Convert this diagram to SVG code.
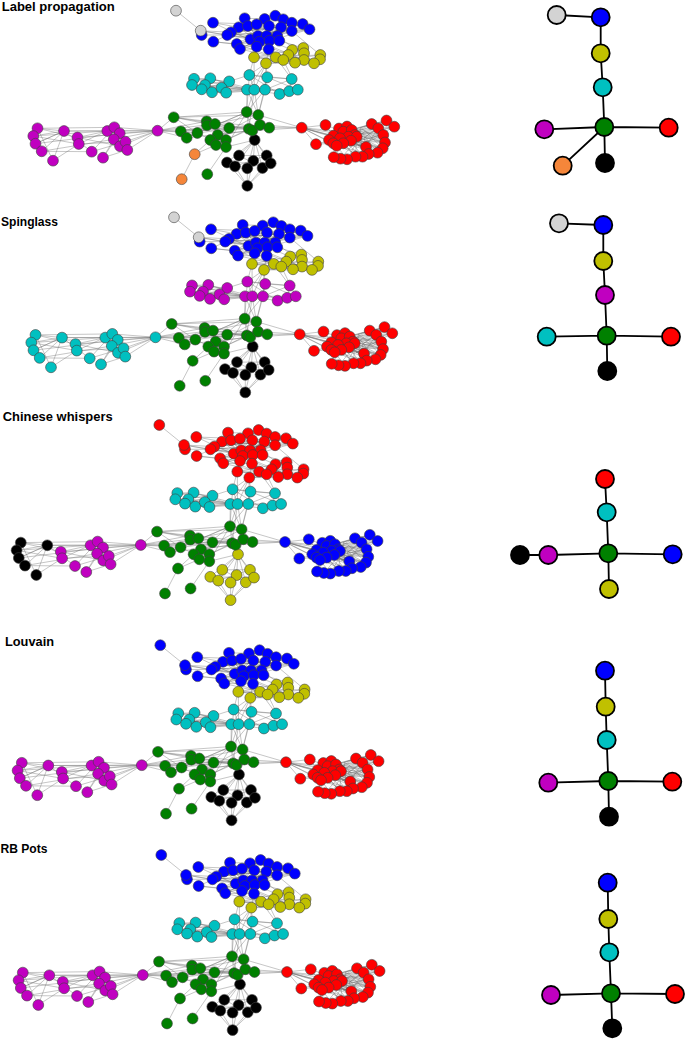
<svg xmlns="http://www.w3.org/2000/svg" xmlns:xlink="http://www.w3.org/1999/xlink" width="685" height="1039" viewBox="0 0 685 1039">
<style>
.title{font-family:"Liberation Sans",Arial,sans-serif;font-weight:bold;font-size:13px;fill:#000}
.sn{stroke:#000;stroke-width:1.8}
.se{stroke:#000;stroke-width:1.8;fill:none}
</style>
<defs>
<path id="edges" fill="none" stroke="#707070" stroke-width="0.4" d="
M176 10.7L200.7 30.7M200.7 30.7L227.2 35M200.7 30.7L231 32.3M200.7 30.7L250.5 39.3M213 22.7L238.7 27.3M213.3 41.7L236.8 44M201.7 35L227 35M213 22.7L256.7 24.3M213.3 41.7L256.7 46.7M213 22.7L250 40M213.3 41.7L247.8 26
M227 35L309.5 29.3M231 32.3L302.7 24M238.7 27.3L291.8 31M236.8 44L279.3 40.7M240 49L268.7 49.3M244.7 18.3L283.3 19.3M247.8 26L309.5 29.3M250.5 39.3L302.7 24M256.7 46.7L291.8 22.7M227 35L279.3 40.7M231 32.3L269.5 40.7M236.8 44L291.8 31M240 49L309.5 29.3M238.7 27.3L277.3 36M247.8 26L266.7 36M256.7 24.3L291.8 31M264.7 19L279.3 40.7M275.3 15.7L258 36M231 32.3L291.8 22.7M227 35L264.7 19M236.8 44L302.7 24M240 49L281 27.3M250.5 39.3L309.5 29.3M259.5 41.7L244.7 18.3M269.5 40.7L238.7 27.3M268.7 49.3L247.8 26M227 35L269.5 40.7M231 32.3L259.5 41.7M238.7 27.3L268.7 49.3M227 35L291.8 31M231 32.3L281 27.3M236.8 44L269 26M240 49L291.8 22.7
M256.7 46.7L254 57.3M268.7 49.3L266 63.3M269.5 40.7L292.2 50M279.3 40.7L303.3 48M240 49L275.8 57.3M250.5 39.3L288.3 55M291.8 31L320.3 55M236.8 44L283.3 60M259.5 41.7L304 60M277.3 36L314 63.3
M254 57.3L320.3 55M266 63.3L314 63.3M275.8 57.3L304 60M254 57.3L303.3 48M266 63.3L320 59.3M283.3 60L320.3 55M288.3 55L314 63.3M254 57.3L295 62.7M266 63.3L292.2 50M275.8 57.3L320 59.3M254 57.3L314 63.3M266 63.3L304 53.3
M266 63.3L249.3 75M266 63.3L254.3 89.7M266 63.3L247 89.7M266 63.3L267.2 77.3M254 57.3L249.3 75M275.8 57.3L291.7 79M266 63.3L265 89.7M283.3 60L297.8 89.7M254 57.3L254.3 89.7
M194 78.8L229.2 81.4M192 85L247 89.7M201.7 89.3L254.3 89.7M205 85L265 89.7M210.3 78.3L247 89.7M212 92.3L247 89.7M221.5 87.8L254.3 89.7M226.2 92.7L265 89.7M194 78.8L210.3 78.3M192 85L221.5 87.8M201.7 89.3L229.2 81.4M205 85L226.2 92.7M194 78.8L247 89.7M210.3 78.3L254.3 89.7M212 92.3L265 89.7M229.2 81.4L249.3 75M192 85L229.2 81.4
M249.3 75L291.7 79M267.2 77.3L297.8 89.7M249.3 75L254.3 89.7M267.2 77.3L265 89.7M247 89.7L279.6 94M254.3 89.7L289.2 91.2M265 89.7L297.8 89.7M249.3 75L267.2 77.3M267.2 77.3L291.7 79M291.7 79L289.2 91.2M249.3 75L279.6 94M291.7 79L265 89.7
M247 89.7L246.7 112M254.3 89.7L246.7 112M254.3 89.7L258.3 115M265 89.7L258.3 115M247 89.7L258.3 115M265 89.7L246.7 112M249.3 75L246.7 112M267.2 77.3L258.3 115M254.3 89.7L248.8 128.8
M173.7 117.3L246.7 112M173.7 117.3L229.2 128M173.7 117.3L258.3 115M180.8 131.3L248.8 128.8M186.7 137.8L246.7 112M197.3 133L260 125M206.7 121.3L269.2 127.7M207 125.3L258.3 115M215 124L252.2 130.5M217.7 135L246.7 112M210.3 140L229.2 128M216 145L248.8 128.8M226 140L260 125M226 147L246.7 112M229.2 128L269.2 127.7M180.8 131.3L215 124M186.7 137.8L207 125.3M173.7 117.3L206.7 121.3M197.3 133L226 147M206.7 121.3L226 140M246.7 112L258.3 115M258.3 115L269.2 127.7M246.7 112L248.8 128.8M173.7 117.3L197.3 133M180.8 131.3L260 125M186.7 137.8L252.2 130.5M210.3 140L258.3 115M217.7 135L269.2 127.7M173.7 117.3L248.8 128.8M197.3 133L246.7 112
M157.5 130.7L173.7 117.3M157.5 130.7L180.8 131.3M157.5 130.7L206.7 121.3M157.5 130.7L197.3 133M157.5 130.7L215 124M157.5 130.7L186.7 137.8M157.5 130.7L229.2 128
M157.5 130.7L114.3 127.3M157.5 130.7L119.7 133.3M157.5 130.7L125.5 141.7M157.5 130.7L127.3 150M157.5 130.7L120 146.2M157.5 130.7L107.3 131M157.5 130.7L113.8 139.3M157.5 130.7L64 131M157.5 130.7L77.5 137.5
M37.5 128.3L114.3 127.3M33.3 136L107.3 131M35.5 143.7L119.7 133.3M41.7 151.3L113.8 139.3M53 160.7L64 131M64 131L107.3 131M64 131L35.5 143.7M37.5 128.3L77.5 137.5M33.3 136L78.8 144M41.7 151.3L91.7 151.7M77.5 137.5L120 146.2M78.8 144L125.5 141.7M91.7 151.7L114.3 127.3M103 157.7L119.7 133.3M103 157.7L127.3 150M77.5 137.5L107.3 131M35.5 143.7L64 131M53 160.7L37.5 128.3M53 160.7L78.8 144M64 131L91.7 151.7M37.5 128.3L64 131M107.3 131L127.3 150M114.3 127.3L120 146.2M91.7 151.7L125.5 141.7M33.3 136L64 131M41.7 151.3L64 131M78.8 144L114.3 127.3M103 157.7L113.8 139.3
M269.2 127.7L301.7 127.7M258.3 115L301.7 127.7M260 125L301.7 127.7M252.2 130.5L301.7 127.7
M301.7 127.7L333.3 135.7M301.7 127.7L340 138.3M301.7 127.7L333.3 143.3M301.7 127.7L343.3 131.7M301.7 127.7L336.7 145.7M301.7 127.7L351 140.7M301.7 127.7L325.5 125M325.5 125L343.3 131.7M316 144.2L333.3 143.3M316 144.2L301.7 127.7M316 144.2L340 138.3M325.5 125L333.3 135.7M301.7 127.7L356.7 136.7M301.7 127.7L366 147
M343.3 131.7L371.7 124M348.3 136.7L378.3 128.3M351 140.7L383.3 135M355 135L385 142.5M343.3 143.3L382.7 148.3M340 138.3L377.5 152.7M336.7 145.7L368.7 154M333.3 143.3L362.5 156.7M351.7 130L386.5 120.5M356.7 136.7L394.3 126.7M340 138.3L366 147M343.3 131.7L383.3 135M333.3 135.7L385 142.5M348.3 136.7L382.7 148.3M351 140.7L377.5 152.7M355 135L368.7 154M343.3 143.3L355.5 156.7M336.7 145.7L347 159.3M333.3 143.3L340.5 158.7M351.7 130L378.3 128.3M356.7 136.7L383.3 135M340 138.3L362.5 156.7M333.3 135.7L371.7 124M348.3 136.7L366 147M355 135L382.7 148.3M343.3 131.7L385 142.5M351 140.7L362.5 156.7M340 138.3L386.5 120.5M336.7 145.7L333.7 157.2M343.3 143.3L377.5 152.7M351.7 130L383.3 135M333.3 135.7L378.3 128.3M356.7 136.7L377.5 152.7M348.3 136.7L394.3 126.7M340 138.3L382.7 148.3M355 135L366 147M351 140.7L385 142.5M343.3 131.7L368.7 154M333.3 143.3L371.7 124M336.7 145.7L383.3 135M343.3 143.3L366 147M356.7 136.7L355.5 156.7M351.7 130L385 142.5M333.3 135.7L382.7 148.3M348.3 136.7L368.7 154M340 138.3L355.5 156.7M371.7 124L386.5 120.5M378.3 128.3L394.3 126.7
M360 128L385 142.5M362 133L377.5 152.7M364 138L368.7 154M358 146L383.3 135M362 152L378.3 128.3M365 131L382.7 148.3M360 128L362.5 156.7M364 138L386.5 120.5M358 146L394.3 126.7M362 133L347 159.3M365 131L340.5 158.7M360 128L371.7 124M364 138L378.3 128.3
M254.7 140L239 155.5M254.7 140L266.7 155.5M254.7 140L227 162.5M254.7 140L235 166.3M254.7 140L253.3 160.8M254.7 140L247.3 168.3M254.7 140L262.5 168M254.7 140L270.7 163.3M247.3 185.8L227 162.5M247.3 185.8L235 166.3M247.3 185.8L247.3 168.3M247.3 185.8L262.5 168M247.3 185.8L270.7 163.3M247.3 185.8L253.3 160.8M239 155.5L266.7 155.5M227 162.5L270.7 163.3M239 155.5L262.5 168M266.7 155.5L235 166.3
M254.7 140L252.2 130.5M254.7 140L248.8 128.8M254.7 140L260 125M254.7 140L246.7 112M254.7 140L258.3 115M254.7 140L226 147
M194.7 154.2L181.7 179.2M194.7 154.2L210.3 140M207.3 174.2L226 147M194.7 154.2L216 145"/>
<g id="nGrey" stroke="#404040" stroke-width="0.6"><circle cx="176" cy="10.7" r="5.4"/><circle cx="200.7" cy="30.7" r="5.4"/></g>
<g id="nBlue" stroke="#404040" stroke-width="0.6">
<circle cx="201.7" cy="35" r="5.4"/><circle cx="213" cy="22.7" r="5.4"/><circle cx="213.3" cy="41.7" r="5.4"/><circle cx="244.7" cy="18.3" r="5.4"/><circle cx="264.7" cy="19" r="5.4"/><circle cx="275.3" cy="15.7" r="5.4"/><circle cx="283.3" cy="19.3" r="5.4"/><circle cx="291.8" cy="22.7" r="5.4"/><circle cx="302.7" cy="24" r="5.4"/><circle cx="309.5" cy="29.3" r="5.4"/><circle cx="238.7" cy="27.3" r="5.4"/><circle cx="247.8" cy="26" r="5.4"/><circle cx="256.7" cy="24.3" r="5.4"/><circle cx="269" cy="26" r="5.4"/><circle cx="281" cy="27.3" r="5.4"/><circle cx="291.8" cy="31" r="5.4"/><circle cx="231" cy="32.3" r="5.4"/><circle cx="227.2" cy="35" r="5.4"/><circle cx="250.5" cy="39.3" r="5.4"/><circle cx="258" cy="36" r="5.4"/><circle cx="266.7" cy="36" r="5.4"/><circle cx="277.3" cy="36" r="5.4"/><circle cx="236.8" cy="44" r="5.4"/><circle cx="240" cy="49" r="5.4"/><circle cx="259.5" cy="41.7" r="5.4"/><circle cx="269.5" cy="40.7" r="5.4"/><circle cx="279.3" cy="40.7" r="5.4"/><circle cx="256.7" cy="46.7" r="5.4"/><circle cx="268.7" cy="49.3" r="5.4"/>
</g>
<g id="nYellow" stroke="#404040" stroke-width="0.6">
<circle cx="303.3" cy="48" r="5.4"/><circle cx="292.2" cy="50" r="5.4"/><circle cx="304" cy="53.3" r="5.4"/><circle cx="288.3" cy="55" r="5.4"/><circle cx="320.3" cy="55" r="5.4"/><circle cx="254" cy="57.3" r="5.4"/><circle cx="275.8" cy="57.3" r="5.4"/><circle cx="283.3" cy="60" r="5.4"/><circle cx="304" cy="60" r="5.4"/><circle cx="320" cy="59.3" r="5.4"/><circle cx="266" cy="63.3" r="5.4"/><circle cx="295" cy="62.7" r="5.4"/><circle cx="314" cy="63.3" r="5.4"/>
</g>
<g id="nCyan" stroke="#404040" stroke-width="0.6">
<circle cx="194" cy="78.8" r="5.4"/><circle cx="210.3" cy="78.3" r="5.4"/><circle cx="192" cy="85" r="5.4"/><circle cx="205" cy="85" r="5.4"/><circle cx="201.7" cy="89.3" r="5.4"/><circle cx="212" cy="92.3" r="5.4"/><circle cx="229.2" cy="81.4" r="5.4"/><circle cx="221.5" cy="87.8" r="5.4"/><circle cx="226.2" cy="92.7" r="5.4"/><circle cx="249.3" cy="75" r="5.4"/><circle cx="267.2" cy="77.3" r="5.4"/><circle cx="291.7" cy="79" r="5.4"/><circle cx="247" cy="89.7" r="5.4"/><circle cx="254.3" cy="89.7" r="5.4"/><circle cx="265" cy="89.7" r="5.4"/><circle cx="279.6" cy="94" r="5.4"/><circle cx="289.2" cy="91.2" r="5.4"/><circle cx="297.8" cy="89.7" r="5.4"/>
</g>
<g id="nGreen" stroke="#404040" stroke-width="0.6">
<circle cx="173.7" cy="117.3" r="5.4"/><circle cx="246.7" cy="112" r="5.4"/><circle cx="258.3" cy="115" r="5.4"/><circle cx="180.8" cy="131.3" r="5.4"/><circle cx="186.7" cy="137.8" r="5.4"/><circle cx="197.3" cy="133" r="5.4"/><circle cx="206.7" cy="121.3" r="5.4"/><circle cx="207" cy="125.3" r="5.4"/><circle cx="215" cy="124" r="5.4"/><circle cx="229.2" cy="128" r="5.4"/><circle cx="217.7" cy="135" r="5.4"/><circle cx="210.3" cy="140" r="5.4"/><circle cx="216" cy="145" r="5.4"/><circle cx="226" cy="140" r="5.4"/><circle cx="226" cy="147" r="5.4"/><circle cx="248.8" cy="128.8" r="5.4"/><circle cx="252.2" cy="130.5" r="5.4"/><circle cx="260" cy="125" r="5.4"/><circle cx="269.2" cy="127.7" r="5.4"/><circle cx="207.3" cy="174.2" r="5.4"/>
</g>
<g id="nOrange" stroke="#404040" stroke-width="0.6"><circle cx="194.7" cy="154.2" r="5.4"/><circle cx="181.7" cy="179.2" r="5.4"/></g>
<g id="nBlack" stroke="#404040" stroke-width="0.6">
<circle cx="254.7" cy="140" r="5.4"/><circle cx="239" cy="155.5" r="5.4"/><circle cx="266.7" cy="155.5" r="5.4"/><circle cx="227" cy="162.5" r="5.4"/><circle cx="235" cy="166.3" r="5.4"/><circle cx="253.3" cy="160.8" r="5.4"/><circle cx="247.3" cy="168.3" r="5.4"/><circle cx="262.5" cy="168" r="5.4"/><circle cx="270.7" cy="163.3" r="5.4"/><circle cx="247.3" cy="185.8" r="5.4"/>
</g>
<g id="nMagA" stroke="#404040" stroke-width="0.6">
<circle cx="37.5" cy="128.3" r="5.4"/><circle cx="33.3" cy="136" r="5.4"/><circle cx="35.5" cy="143.7" r="5.4"/><circle cx="41.7" cy="151.3" r="5.4"/><circle cx="53" cy="160.7" r="5.4"/><circle cx="64" cy="131" r="5.4"/>
</g>
<g id="nMagB" stroke="#404040" stroke-width="0.6">
<circle cx="77.5" cy="137.5" r="5.4"/><circle cx="78.8" cy="144" r="5.4"/><circle cx="91.7" cy="151.7" r="5.4"/><circle cx="103" cy="157.7" r="5.4"/><circle cx="107.3" cy="131" r="5.4"/><circle cx="114.3" cy="127.3" r="5.4"/><circle cx="119.7" cy="133.3" r="5.4"/><circle cx="113.8" cy="139.3" r="5.4"/><circle cx="120" cy="146.2" r="5.4"/><circle cx="125.5" cy="141.7" r="5.4"/><circle cx="127.3" cy="150" r="5.4"/><circle cx="157.5" cy="130.7" r="5.4"/>
</g>
<g id="nRed" stroke="#404040" stroke-width="0.6">
<circle cx="301.7" cy="127.7" r="5.4"/><circle cx="325.5" cy="125" r="5.4"/><circle cx="316" cy="144.2" r="5.4"/><circle cx="371.7" cy="124" r="5.4"/><circle cx="386.5" cy="120.5" r="5.4"/><circle cx="394.3" cy="126.7" r="5.4"/><circle cx="378.3" cy="128.3" r="5.4"/><circle cx="383.3" cy="135" r="5.4"/><circle cx="385" cy="142.5" r="5.4"/><circle cx="382.7" cy="148.3" r="5.4"/><circle cx="377.5" cy="152.7" r="5.4"/><circle cx="366" cy="147" r="5.4"/><circle cx="368.7" cy="154" r="5.4"/><circle cx="362.5" cy="156.7" r="5.4"/><circle cx="355.5" cy="156.7" r="5.4"/><circle cx="347" cy="159.3" r="5.4"/><circle cx="340.5" cy="158.7" r="5.4"/><circle cx="333.7" cy="157.2" r="5.4"/>
<circle cx="339" cy="128.5" r="5.4"/><circle cx="347" cy="126.5" r="5.4"/><circle cx="343.3" cy="131.7" r="5.4"/><circle cx="351.7" cy="130" r="5.4"/><circle cx="333.3" cy="135.7" r="5.4"/><circle cx="355" cy="135" r="5.4"/><circle cx="348.3" cy="136.7" r="5.4"/><circle cx="340" cy="138.3" r="5.4"/><circle cx="356.7" cy="136.7" r="5.4"/><circle cx="351" cy="140.7" r="5.4"/><circle cx="329" cy="140" r="5.4"/><circle cx="333.3" cy="143.3" r="5.4"/><circle cx="343.3" cy="143.3" r="5.4"/><circle cx="336.7" cy="145.7" r="5.4"/>
</g>
</defs>

<g id="titles">
<text class="title" x="1.7" y="10.5" textLength="113" lengthAdjust="spacingAndGlyphs">Label propagation</text>
<text class="title" x="1" y="225.5" textLength="57" lengthAdjust="spacingAndGlyphs">Spinglass</text>
<text class="title" x="2.7" y="420.7" textLength="110" lengthAdjust="spacingAndGlyphs">Chinese whispers</text>
<text class="title" x="5" y="646" textLength="49" lengthAdjust="spacingAndGlyphs">Louvain</text>
<text class="title" x="0.5" y="852.7" textLength="47" lengthAdjust="spacingAndGlyphs">RB Pots</text>
</g>

<g id="net-label-propagation">
<use href="#edges"/>
<use href="#nRed" fill="#ff0000"/>
<use href="#nMagA" fill="#c000c0"/>
<use href="#nMagB" fill="#c000c0"/>
<use href="#nBlack" fill="#000000"/>
<use href="#nGreen" fill="#008000"/>
<use href="#nOrange" fill="#f5863a"/>
<use href="#nCyan" fill="#00c0c0"/>
<use href="#nBlue" fill="#0000ff"/>
<use href="#nYellow" fill="#c0c000"/>
<use href="#nGrey" fill="#d3d3d3"/>
</g>

<g id="net-spinglass" transform="translate(-2,206.6)">
<use href="#edges"/>
<use href="#nRed" fill="#ff0000"/>
<use href="#nMagA" fill="#00c0c0"/>
<use href="#nMagB" fill="#00c0c0"/>
<use href="#nBlack" fill="#000000"/>
<use href="#nGreen" fill="#008000"/>
<use href="#nOrange" fill="#008000"/>
<use href="#nCyan" fill="#c000c0"/>
<use href="#nBlue" fill="#0000ff"/>
<use href="#nYellow" fill="#c0c000"/>
<use href="#nGrey" fill="#d3d3d3"/>
</g>

<g id="net-chinese-whispers" transform="translate(-16.7,414.3)">
<use href="#edges"/>
<use href="#nRed" fill="#0000ff"/>
<use href="#nMagA" fill="#000000"/>
<use href="#nMagB" fill="#c000c0"/>
<use href="#nBlack" fill="#c0c000"/>
<use href="#nGreen" fill="#008000"/>
<use href="#nOrange" fill="#008000"/>
<use href="#nCyan" fill="#00c0c0"/>
<use href="#nBlue" fill="#ff0000"/>
<use href="#nYellow" fill="#ff0000"/>
<use href="#nGrey" fill="#ff0000"/>
</g>

<g id="net-louvain" transform="translate(-15.7,634.5)">
<use href="#edges"/>
<use href="#nRed" fill="#ff0000"/>
<use href="#nMagA" fill="#c000c0"/>
<use href="#nMagB" fill="#c000c0"/>
<use href="#nBlack" fill="#000000"/>
<use href="#nGreen" fill="#008000"/>
<use href="#nOrange" fill="#008000"/>
<use href="#nCyan" fill="#00c0c0"/>
<use href="#nBlue" fill="#0000ff"/>
<use href="#nYellow" fill="#c0c000"/>
<use href="#nGrey" fill="#0000ff"/>
</g>

<g id="net-rb-pots" transform="translate(-14.7,844.3)">
<use href="#edges"/>
<use href="#nRed" fill="#ff0000"/>
<use href="#nMagA" fill="#c000c0"/>
<use href="#nMagB" fill="#c000c0"/>
<use href="#nBlack" fill="#000000"/>
<use href="#nGreen" fill="#008000"/>
<use href="#nOrange" fill="#008000"/>
<use href="#nCyan" fill="#00c0c0"/>
<use href="#nBlue" fill="#0000ff"/>
<use href="#nYellow" fill="#c0c000"/>
<use href="#nGrey" fill="#0000ff"/>
</g>

<g id="connectors">
<path class="se" d="M556.7 15L600.7 17.3M600.7 17.3L600.7 53.3M600.7 53.3L602.7 87.3M602.7 87.3L604.3 127M604.3 127L544.3 129.3M604.3 127L668.7 127.7M604.3 127L562.7 165.7M604.3 127L605 163"/>
<path class="se" d="M559 223.3L603.3 225M603.3 225L603.3 261M603.3 261L605 295M605 295L606.7 335.7M606.7 335.7L546.7 336.7M606.7 335.7L671 336.7M606.7 335.7L607.3 371"/>
<path class="se" d="M605 479L606.7 512.3M606.7 512.3L608.3 553.3M608.3 553.3L548.3 555M548.3 555L520 555M608.3 553.3L672.7 554.3M608.3 553.3L609 589"/>
<path class="se" d="M605 670.7L605.7 706.7M605.7 706.7L606.7 740M606.7 740L608.3 781M608.3 781L548.3 782.7M608.3 781L672.3 781.7M608.3 781L609 816.7"/>
<path class="se" d="M607.7 882.7L608.3 919M608.3 919L609.3 952.3M609.3 952.3L611 993.3M611 993.3L551 995M611 993.3L675 994M611 993.3L612.3 1028.3"/>
</g>

<g id="summary-label-propagation">
<g id="lp-grey"><circle class="sn" cx="556.7" cy="15" r="9" fill="#d3d3d3"/></g>
<g id="lp-blue"><circle class="sn" cx="600.7" cy="17.3" r="9" fill="#0000ff"/></g>
<g id="lp-yellow"><circle class="sn" cx="600.7" cy="53.3" r="9" fill="#c0c000"/></g>
<g id="lp-cyan"><circle class="sn" cx="602.7" cy="87.3" r="9" fill="#00c0c0"/></g>
<g id="lp-green"><circle class="sn" cx="604.3" cy="127" r="9" fill="#008000"/></g>
<g id="lp-magenta"><circle class="sn" cx="544.3" cy="129.3" r="9" fill="#c000c0"/></g>
<g id="lp-red"><circle class="sn" cx="668.7" cy="127.7" r="9" fill="#ff0000"/></g>
<g id="lp-orange"><circle class="sn" cx="562.7" cy="165.7" r="9" fill="#f5863a"/></g>
<g id="lp-black"><circle class="sn" cx="605" cy="163" r="9" fill="#000000"/></g>
</g>

<g id="summary-spinglass">
<g id="sg-grey"><circle class="sn" cx="559" cy="223.3" r="9" fill="#d3d3d3"/></g>
<g id="sg-blue"><circle class="sn" cx="603.3" cy="225" r="9" fill="#0000ff"/></g>
<g id="sg-yellow"><circle class="sn" cx="603.3" cy="261" r="9" fill="#c0c000"/></g>
<g id="sg-magenta"><circle class="sn" cx="605" cy="295" r="9" fill="#c000c0"/></g>
<g id="sg-green"><circle class="sn" cx="606.7" cy="335.7" r="9" fill="#008000"/></g>
<g id="sg-cyan"><circle class="sn" cx="546.7" cy="336.7" r="9" fill="#00c0c0"/></g>
<g id="sg-red"><circle class="sn" cx="671" cy="336.7" r="9" fill="#ff0000"/></g>
<g id="sg-black"><circle class="sn" cx="607.3" cy="371" r="9" fill="#000000"/></g>
</g>

<g id="summary-chinese-whispers">
<g id="cw-red"><circle class="sn" cx="605" cy="479" r="9" fill="#ff0000"/></g>
<g id="cw-cyan"><circle class="sn" cx="606.7" cy="512.3" r="9" fill="#00c0c0"/></g>
<g id="cw-green"><circle class="sn" cx="608.3" cy="553.3" r="9" fill="#008000"/></g>
<g id="cw-magenta"><circle class="sn" cx="548.3" cy="555" r="9" fill="#c000c0"/></g>
<g id="cw-black"><circle class="sn" cx="520" cy="555" r="9" fill="#000000"/></g>
<g id="cw-blue"><circle class="sn" cx="672.7" cy="554.3" r="9" fill="#0000ff"/></g>
<g id="cw-yellow"><circle class="sn" cx="609" cy="589" r="9" fill="#c0c000"/></g>
</g>

<g id="summary-louvain">
<g id="lv-blue"><circle class="sn" cx="605" cy="670.7" r="9" fill="#0000ff"/></g>
<g id="lv-yellow"><circle class="sn" cx="605.7" cy="706.7" r="9" fill="#c0c000"/></g>
<g id="lv-cyan"><circle class="sn" cx="606.7" cy="740" r="9" fill="#00c0c0"/></g>
<g id="lv-green"><circle class="sn" cx="608.3" cy="781" r="9" fill="#008000"/></g>
<g id="lv-magenta"><circle class="sn" cx="548.3" cy="782.7" r="9" fill="#c000c0"/></g>
<g id="lv-red"><circle class="sn" cx="672.3" cy="781.7" r="9" fill="#ff0000"/></g>
<g id="lv-black"><circle class="sn" cx="609" cy="816.7" r="9" fill="#000000"/></g>
</g>

<g id="summary-rb-pots">
<g id="rb-blue"><circle class="sn" cx="607.7" cy="882.7" r="9" fill="#0000ff"/></g>
<g id="rb-yellow"><circle class="sn" cx="608.3" cy="919" r="9" fill="#c0c000"/></g>
<g id="rb-cyan"><circle class="sn" cx="609.3" cy="952.3" r="9" fill="#00c0c0"/></g>
<g id="rb-green"><circle class="sn" cx="611" cy="993.3" r="9" fill="#008000"/></g>
<g id="rb-magenta"><circle class="sn" cx="551" cy="995" r="9" fill="#c000c0"/></g>
<g id="rb-red"><circle class="sn" cx="675" cy="994" r="9" fill="#ff0000"/></g>
<g id="rb-black"><circle class="sn" cx="612.3" cy="1028.3" r="9" fill="#000000"/></g>
</g>
</svg>
